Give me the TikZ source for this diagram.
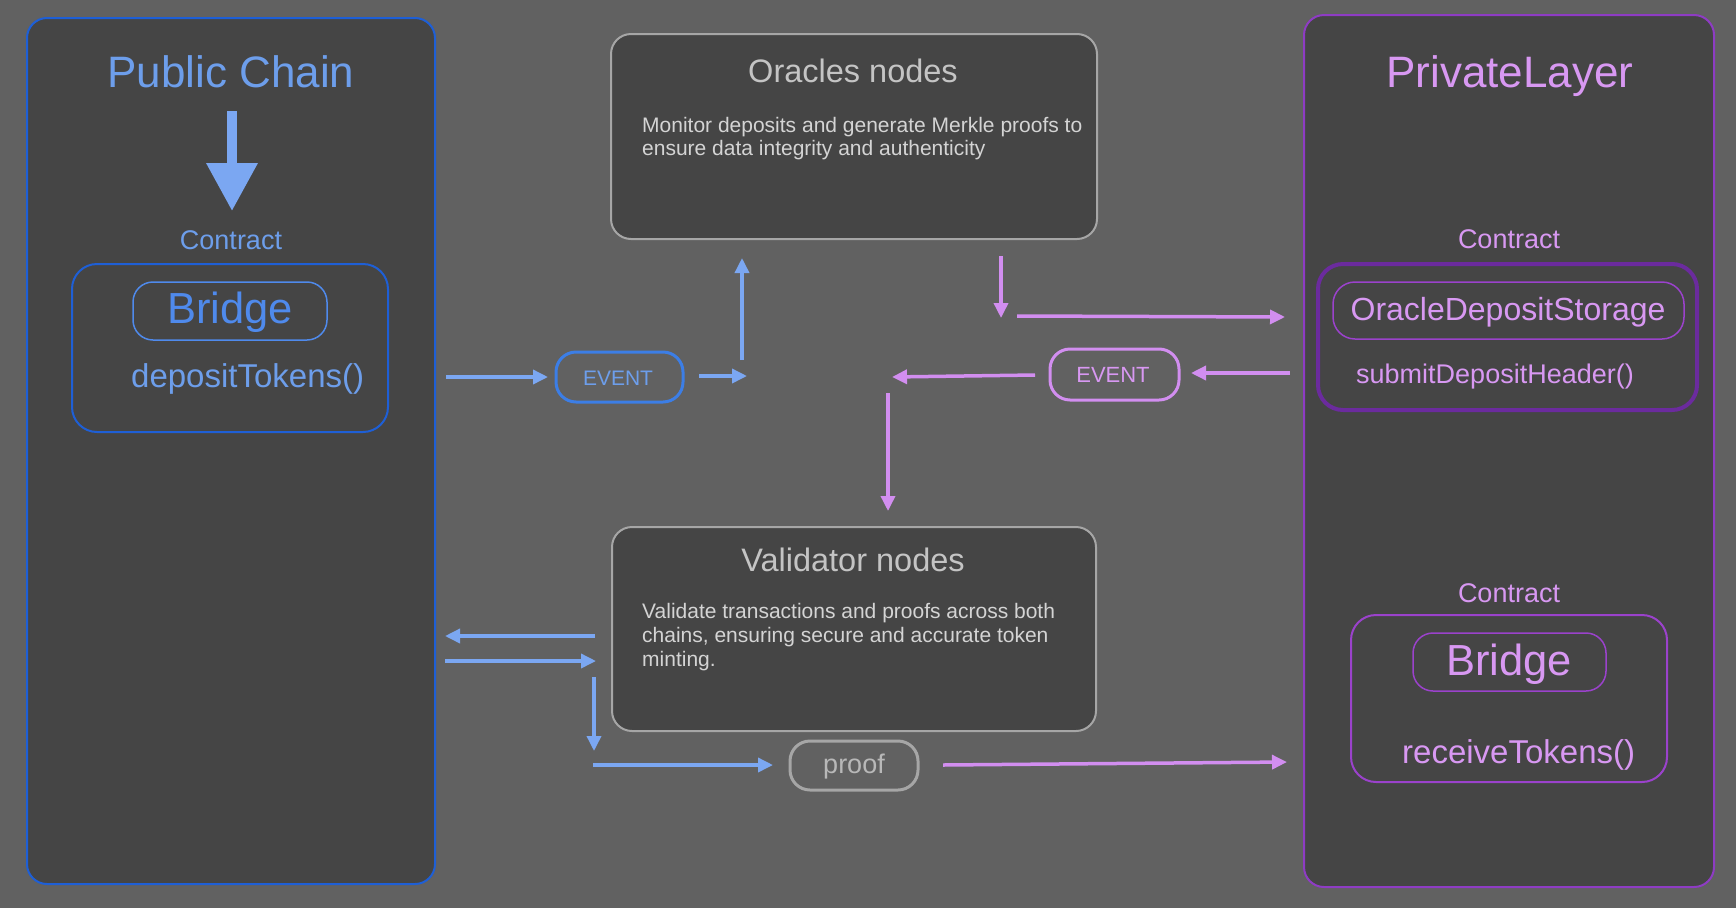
\documentclass[tikz,border=0pt]{standalone}
\usepackage{fontspec}
\setmainfont{Liberation Sans}
\usetikzlibrary{arrows.meta}
\definecolor{bg}{HTML}{616161}
\definecolor{boxfill}{HTML}{454545}
\definecolor{pubstroke}{HTML}{1E5FD6}
\definecolor{bluetext}{HTML}{6D9EEB}
\definecolor{bridgeblue}{HTML}{4F8AEC}
\definecolor{bluearrow}{HTML}{7BA7F2}
\definecolor{evblue}{HTML}{3C7EE6}
\definecolor{privstroke}{HTML}{8E3CC4}
\definecolor{pinktext}{HTML}{D898F2}
\definecolor{odsouter}{HTML}{6B2B9E}
\definecolor{pinkstroke}{HTML}{9B42CC}
\definecolor{pinkarrow}{HTML}{D28EF0}
\definecolor{graystroke}{HTML}{A6A6A6}
\definecolor{graytitle}{HTML}{C4C4C4}
\definecolor{graybody}{HTML}{D4D4D4}
\definecolor{prooftext}{HTML}{B8B8B8}
\newcommand{\fsz}[1]{\fontsize{#1}{#1}\selectfont}
\begin{document}
\begin{tikzpicture}[x=1pt,y=-1pt,
  panel/.style={draw, rounded corners=20pt, fill=boxfill, inner sep=0pt, line width=2pt},
  pill/.style={draw, rounded corners=20pt, inner sep=0pt, line width=1.5pt},
  arr/.style={line width=3.5pt, -{Triangle[length=15pt,width=14pt]}},
  lbl/.style={inner sep=0pt, anchor=base},
  lblw/.style={inner sep=0pt, anchor=base west}]
\path[use as bounding box, fill=bg] (0,0) rectangle (1736,908);

% containers
\node[panel, draw=pubstroke, minimum width=408pt, minimum height=866pt] (pub) at (231,451) {};
\node[panel, draw=privstroke, minimum width=410pt, minimum height=872pt] (priv) at (1509,451) {};
\node[panel, draw=graystroke, minimum width=486pt, minimum height=205pt] (orc) at (854,136.5) {};
\node[panel, draw=graystroke, minimum width=484pt, minimum height=204pt] (val) at (854,629) {};

% public chain contents
\node[lbl, text=bluetext, font=\fsz{44}] (pubtitle) at (231,87) {Public Chain};
\coordinate (bigA) at (232,111);
\coordinate (bigB) at (232,211);
\draw[bluearrow, line width=10pt, -{Triangle[length=48pt,width=49pt]}] (bigA) -- (bigB);
\node[lbl, text=bluetext, font=\fsz{27}] (lcontract) at (231,249) {Contract};
\node[pill, draw=pubstroke, line width=2pt, rounded corners=25pt, minimum width=316pt, minimum height=168pt] (lbox) at (230,348) {};
\node[pill, draw=bridgeblue, minimum width=194pt, minimum height=58pt] (lpill) at (230,311) {};
\node[lbl, text=bridgeblue, font=\fsz{43.5}] (lbridge) at (230,323) {Bridge};
\node[lblw, text=bluetext, font=\fsz{33}] (deposit) at (131,387) {depositTokens()};

% private layer contents
\node[lbl, text=pinktext, font=\fsz{44}] (privtitle) at (1510,87) {PrivateLayer};
\node[lbl, text=pinktext, font=\fsz{27}] (rcontract1) at (1509,248) {Contract};
\node[pill, draw=odsouter, line width=4pt, rounded corners=25pt, minimum width=379pt, minimum height=146pt] (odsbox) at (1507.5,337) {};
\node[pill, draw=pinkstroke, rounded corners=22pt, minimum width=351pt, minimum height=57pt] (odspill) at (1508.5,310.5) {};
\node[lbl, text=pinktext, font=\fsz{32}] (odstext) at (1508,320) {OracleDepositStorage};
\node[lblw, text=pinktext, font=\fsz{27}] (submit) at (1356,383) {submitDepositHeader()};
\node[lbl, text=pinktext, font=\fsz{27}] (rcontract2) at (1509,602) {Contract};
\node[pill, draw=pinkstroke, line width=2pt, rounded corners=25pt, minimum width=316pt, minimum height=167pt] (rbox) at (1509,698.5) {};
\node[pill, draw=pinkstroke, minimum width=193pt, minimum height=58pt] (rpill) at (1509.5,662) {};
\node[lbl, text=pinktext, font=\fsz{43.5}] (rbridge) at (1509,675) {Bridge};
\node[lblw, text=pinktext, font=\fsz{33}] (receive) at (1402,763) {receiveTokens()};

% oracle box text
\node[lbl, text=graytitle, font=\fsz{32.5}] (orctitle) at (853,82) {Oracles nodes};
\node[lblw, text=graybody, font=\fsz{21}] (orcl1) at (642,132) {Monitor deposits and generate Merkle proofs to};
\node[lblw, text=graybody, font=\fsz{21}] (orcl2) at (642,155) {ensure data integrity and authenticity};

% validator box text
\node[lbl, text=graytitle, font=\fsz{32.5}] (valtitle) at (853,571) {Validator nodes};
\node[lblw, text=graybody, font=\fsz{21}] (vall1) at (642,618) {Validate transactions and proofs across both};
\node[lblw, text=graybody, font=\fsz{21}] (vall2) at (642,642) {chains, ensuring secure and accurate token};
\node[lblw, text=graybody, font=\fsz{21}] (vall3) at (642,666) {minting.};

% event / proof pills
\node[pill, draw=evblue, line width=3pt, minimum width=127pt, minimum height=50pt] (ev1) at (619.5,377) {};
\node[lbl, text=bluetext, font=\fsz{21}] (ev1t) at (618,385) {EVENT};
\node[pill, draw=pinkarrow, line width=3pt, minimum width=129pt, minimum height=51pt] (ev2) at (1114.5,374.5) {};
\node[lbl, text=pinktext, font=\fsz{22}] (ev2t) at (1113,382) {EVENT};
\node[pill, draw=graystroke, line width=3pt, minimum width=128pt, minimum height=49pt] (proof) at (854,765.5) {};
\node[lbl, text=prooftext, font=\fsz{27}] (prooft) at (854,773) {proof};

% connector end points
\coordinate (b1s) at (446,377);  \coordinate (b1e) at (548,377);
\coordinate (b2s) at (699,376);  \coordinate (b2e) at (747,376);
\coordinate (b3s) at (742,360);  \coordinate (b3e) at (742,258);
\coordinate (b4s) at (595,636);  \coordinate (b4e) at (445,636);
\coordinate (b5s) at (445,661);  \coordinate (b5e) at (596,661);
\coordinate (b6s) at (594,677);  \coordinate (b6e) at (594,751);
\coordinate (b7s) at (593,765);  \coordinate (b7e) at (773,765);
\coordinate (p1s) at (1001,256); \coordinate (p1e) at (1001,318);
\coordinate (p2s) at (1017,316); \coordinate (p2e) at (1285,317);
\coordinate (p3s) at (1290,373); \coordinate (p3e) at (1191,373);
\coordinate (p4s) at (1035,375); \coordinate (p4e) at (892,377);
\coordinate (p5s) at (888,393);  \coordinate (p5e) at (888,511);
\coordinate (p6s) at (943,765);  \coordinate (p6e) at (1287,762);

\begin{scope}[bluearrow]
\draw[arr] (b1s) -- (b1e);
\draw[arr] (b2s) -- (b2e);
\draw[arr] (b3s) -- (b3e);
\draw[arr] (b4s) -- (b4e);
\draw[arr] (b5s) -- (b5e);
\draw[arr] (b6s) -- (b6e);
\draw[arr] (b7s) -- (b7e);
\end{scope}
\begin{scope}[pinkarrow]
\draw[arr] (p1s) -- (p1e);
\draw[arr] (p2s) -- (p2e);
\draw[arr] (p3s) -- (p3e);
\draw[arr] (p4s) -- (p4e);
\draw[arr] (p5s) -- (p5e);
\draw[arr] (p6s) -- (p6e);
\end{scope}
\end{tikzpicture}
\end{document}
